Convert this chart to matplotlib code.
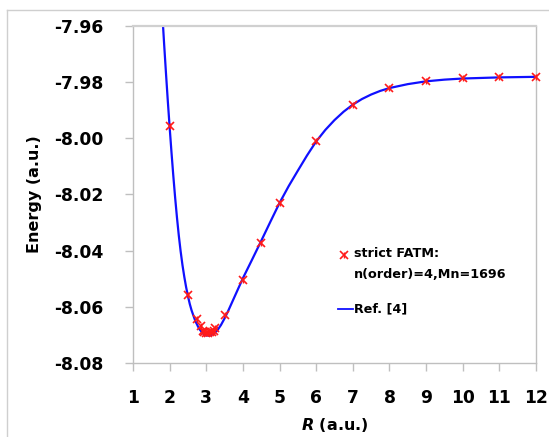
import matplotlib
matplotlib.use("Agg")
import matplotlib.pyplot as plt
from matplotlib.lines import Line2D

# ---- data ----
fatm_R = [2.0, 2.5, 2.75, 2.85, 2.9, 2.95, 3.0, 3.05, 3.1, 3.15, 3.2, 3.25,
          3.5, 4.0, 4.5, 5.0, 6.0, 7.0, 8.0, 9.0, 10.0, 11.0, 12.0]
fatm_E = [-7.9955, -8.0557, -8.0643, -8.0668, -8.0685, -8.0690, -8.0693, -8.0692,
          -8.0690, -8.0688, -8.0685, -8.0675,
          -8.0629, -8.0504, -8.0371, -8.0229, -8.0011, -7.9882, -7.9821,
          -7.9796, -7.9786, -7.9782, -7.9782]

ref_R = [1.78, 1.82, 1.85, 1.9, 1.95, 2.0, 2.05, 2.1, 2.15, 2.2, 2.25, 2.3, 2.35,
         2.4, 2.45, 2.5, 2.55, 2.6, 2.7, 2.8, 2.9, 3.0, 3.1, 3.2, 3.3, 3.4, 3.5,
         3.6, 3.7, 3.8, 3.9, 4.0, 4.25, 4.5, 4.75, 5.0, 5.25, 5.5, 5.75, 6.0,
         6.25, 6.5, 6.75, 7.0, 7.25, 7.5, 7.75, 8.0, 8.5, 9.0, 9.5, 10.0, 11.0, 12.0]
ref_E = [-7.9510, -7.9600, -7.9665, -7.9768, -7.9867, -7.9960, -8.0049, -8.0133,
         -8.0211, -8.0282, -8.0346, -8.0402, -8.0451, -8.0493, -8.0530, -8.0562,
         -8.0590, -8.0613, -8.0650, -8.0677, -8.0694, -8.0702, -8.0702, -8.0696,
         -8.0684, -8.0665, -8.0641, -8.0614, -8.0585, -8.0556, -8.0527, -8.0498,
         -8.0432, -8.0365, -8.0297, -8.0230, -8.0170, -8.0115, -8.0061, -8.0011,
         -7.9970, -7.9935, -7.9905, -7.9880, -7.9860, -7.9844, -7.9831, -7.9821,
         -7.9807, -7.9797, -7.9791, -7.9787, -7.9783, -7.9781]

x_ticks = list(range(1, 13))
y_ticks = [-7.96, -7.98, -8.00, -8.02, -8.04, -8.06, -8.08]

label_fatm = "strict FATM:\nn(order)=4,Mn=1696"
label_ref = "Ref. [4]"

# ---- figure ----
plt.rcParams['font.family'] = ['DejaVu Sans']
plt.rcParams['mathtext.fontset'] = 'custom'
plt.rcParams['mathtext.it'] = 'DejaVu Sans:italic:bold'
plt.rcParams['mathtext.rm'] = 'DejaVu Sans:bold'

W, H = 549, 437
fig = plt.figure(figsize=(W / 100, H / 100), dpi=100)
L, R, T, B = 133, 536, 26, 363
ax = fig.add_axes([L / W, 1 - B / H, (R - L) / W, (B - T) / H])

gray = '#bfbfbf'
red = '#ff1a1a'
blue = '#1010ff'
ax.plot(ref_R, ref_E, color=blue, lw=1.6, zorder=2, clip_on=True)
ax.plot(fatm_R, fatm_E, linestyle='none', marker='x', ms=6.0, mew=1.2,
        color=red, zorder=3, clip_on=False)
ax.plot(fatm_R, fatm_E, linestyle='none', marker='|', ms=4.5, mew=1.0,
        color=red, zorder=3, clip_on=False)

ax.set_xlim(1, 12)
ax.set_ylim(-8.08, -7.96)
ax.set_xticks(x_ticks)
ax.set_xticklabels([str(v) for v in x_ticks])
ax.set_yticks(y_ticks)
ax.set_yticklabels([f"{v:.2f}" for v in y_ticks])

for s in ax.spines.values():
    s.set_color(gray)
    s.set_linewidth(1.0)
ax.spines['top'].set_linewidth(1.6)
ax.spines['top'].set_color('#d0d0d0')

ax.tick_params(axis='both', which='major', direction='out', length=5.5,
               width=1.0, color=gray, labelsize=12.3)
ax.tick_params(axis='y', pad=16)
ax.tick_params(axis='x', pad=13)
for lab in ax.get_xticklabels() + ax.get_yticklabels():
    lab.set_fontweight('bold')

ax.set_ylabel("Energy (a.u.)", fontsize=11.5, fontweight='bold')
ax.yaxis.set_label_coords(-0.225, 0.5)
ax.set_xlabel(r"$R$ (a.u.)", fontsize=11.5, fontweight='bold')
ax.xaxis.set_label_coords(0.5, -0.158)

# top-left light border of the figure area
fig.add_artist(Line2D([7 / W, 7 / W], [0, 1 - 10 / H], transform=fig.transFigure,
                      color='#cfcfcf', lw=1.0))
fig.add_artist(Line2D([7 / W, 1], [1 - 10 / H, 1 - 10 / H], transform=fig.transFigure,
                      color='#cfcfcf', lw=1.0))

# legend (drawn manually to match the layout)
def fx(px):
    return px / W

def fy(py):
    return 1 - py / H

fig.add_artist(Line2D([fx(344)], [fy(255)], transform=fig.transFigure,
                      linestyle='none', marker='x', ms=6.0, mew=1.2, color=red))
fig.add_artist(Line2D([fx(344)], [fy(255)], transform=fig.transFigure,
                      linestyle='none', marker='|', ms=4.5, mew=1.0, color=red))
fig.text(fx(354), fy(247), label_fatm, fontsize=9.2, fontweight='bold',
         va='top', ha='left', linespacing=1.75)
fig.add_artist(Line2D([fx(338), fx(353)], [fy(309), fy(309)], transform=fig.transFigure,
                      color=blue, lw=1.3))
fig.text(fx(354), fy(309), label_ref, fontsize=9.2, fontweight='bold',
         va='center', ha='left')

fig.savefig("out.png", dpi=100)
